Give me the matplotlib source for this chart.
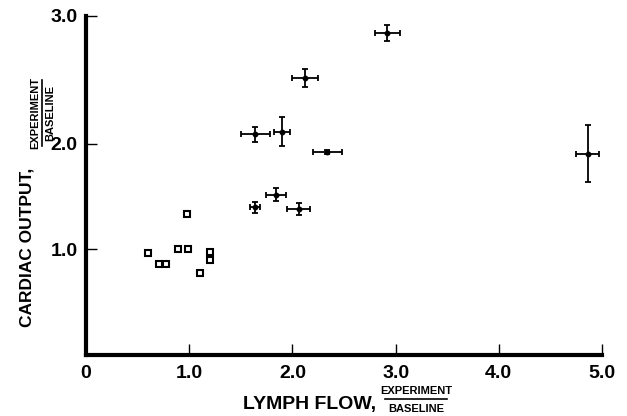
import numpy as np
import matplotlib
matplotlib.use('Agg')
import matplotlib.pyplot as plt

plt.rcParams['font.family'] = ['Liberation Sans', 'DejaVu Sans']
plt.rcParams['font.weight'] = 'bold'

# baseline group (open squares)
sq_x = [0.60, 0.71, 0.78, 0.89, 0.99, 0.98, 1.20, 1.20, 1.10]
sq_y = [0.965, 0.857, 0.857, 1.00, 1.00, 1.336, 0.974, 0.898, 0.778]

# experiment group (mean with error bars)
pt_x = [1.64, 1.90, 2.34, 1.84, 1.64, 2.06, 2.92, 2.12, 4.86]
pt_y = [2.073, 2.092, 1.924, 1.517, 1.400, 1.381, 2.866, 2.517, 1.902]
pt_xerr = [0.142, 0.078, 0.145, 0.095, 0.047, 0.113, 0.124, 0.128, 0.115]
pt_yerr_lo = [0.06, 0.115, 0.02, 0.06, 0.052, 0.054, 0.063, 0.072, 0.267]
pt_yerr_hi = [0.06, 0.115, 0.02, 0.06, 0.052, 0.054, 0.063, 0.072, 0.248]

# the original y axis is drawn unevenly: 2.0 -> 3.0 is longer than 1.0 -> 2.0
yv = [-10, 0, 1, 2, 3, 10]
yu = [-10, 0, 1, 2, 3.21, 3.21 + 7 * 1.21]


def fwd(v):
    return np.interp(v, yv, yu)


def inv(u):
    return np.interp(u, yu, yv)


fig = plt.figure(figsize=(6.27, 4.16), dpi=100)
ax = fig.add_axes([86/627, 1 - 355/416, (602 - 86)/627, (355 - 16)/416])
ax.set_yscale('function', functions=(fwd, inv))

ax.plot(sq_x, sq_y, 's', ms=5, mfc='white', mec='black', mew=1.5,
        linestyle='none')
ax.errorbar(pt_x, pt_y, xerr=pt_xerr, yerr=[pt_yerr_lo, pt_yerr_hi],
            fmt='o', ms=3.2, color='black', ecolor='black', elinewidth=1.3,
            capsize=2.5, capthick=1.3)

ax.set_xlim(0, 5.0)
ax.set_ylim(0, 3.0)
ax.set_xticks([0, 1, 2, 3, 4, 5])
ax.set_xticklabels(['0', '1.0', '2.0', '3.0', '4.0', '5.0'])
ax.set_yticks([1, 2, 3])
ax.set_yticklabels(['1.0', '2.0', '3.0'])
ax.tick_params(direction='in', length=8, width=1.0, labelsize=14,
               colors='black')
ax.tick_params(axis='x', pad=7)
ax.tick_params(axis='y', pad=6)
for lab in ax.get_xticklabels() + ax.get_yticklabels():
    lab.set_fontweight('bold')

ax.spines['top'].set_visible(False)
ax.spines['right'].set_visible(False)
ax.spines['left'].set_linewidth(3)
ax.spines['bottom'].set_linewidth(3)

# x label with fraction
fig.text(310/627, 1 - 404/416, 'LYMPH FLOW,', ha='center', va='center',
         fontsize=14, fontweight='bold')
fig.text(416/627, 1 - 391/416, 'EXPERIMENT', ha='center', va='center',
         fontsize=8, fontweight='bold')
fig.text(416/627, 1 - 409/416, 'BASELINE', ha='center', va='center',
         fontsize=8, fontweight='bold')
fig.add_artist(plt.Line2D([385/627, 447/627], [1 - 399/416, 1 - 399/416],
                          color='black', lw=1.2))

# y label with fraction
fig.text(27/627, 1 - 247/416, 'CARDIAC OUTPUT,', ha='center', va='center',
         rotation=90, fontsize=12.5, fontweight='bold')
fig.text(35/627, 1 - 113/416, 'EXPERIMENT', ha='center', va='center',
         rotation=90, fontsize=8, fontweight='bold')
fig.text(50/627, 1 - 113/416, 'BASELINE', ha='center', va='center',
         rotation=90, fontsize=8, fontweight='bold')
fig.add_artist(plt.Line2D([42/627, 42/627], [1 - 80/416, 1 - 146/416],
                          color='black', lw=1.2))

plt.savefig('out.png', dpi=100)
